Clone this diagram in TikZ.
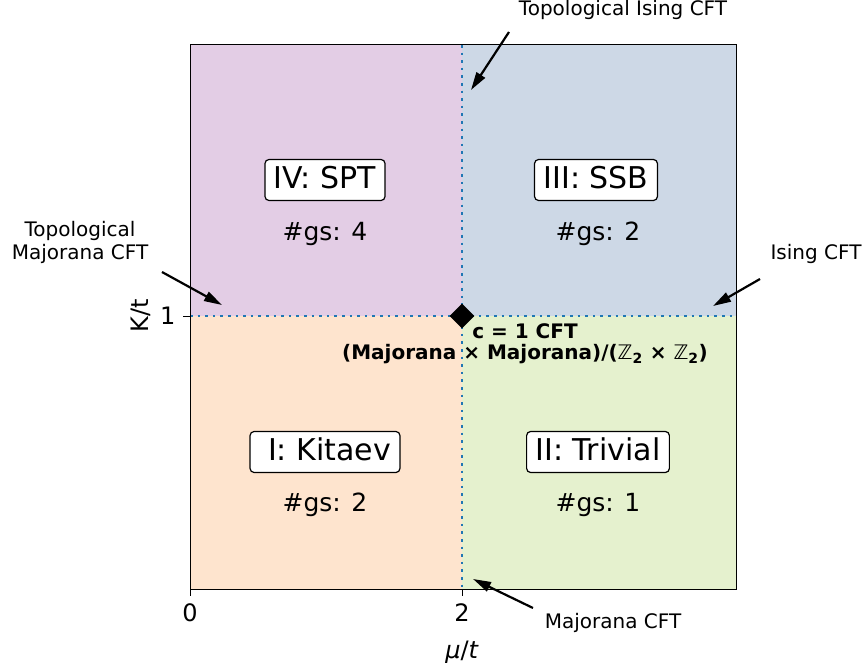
\documentclass[tikz,border=0pt]{standalone}
\usepackage{fontspec}
\setmainfont{DejaVu Sans}
\usetikzlibrary{shapes.geometric,arrows.meta,positioning}
\tikzset{>={Triangle[length=18pt,width=10pt]}, % filled heads as in the plot
x=1pt, y=-1pt, % one unit is one pixel of the plot
}
\definecolor{sptbg}{RGB}{227,205,229}
\definecolor{ssbbg}{RGB}{205,216,230}
\definecolor{kitaevbg}{RGB}{254,228,206}
\definecolor{trivialbg}{RGB}{229,241,206}
\definecolor{lineblue}{RGB}{31,119,180}

\begin{document}
\begin{tikzpicture}[
	phase/.style={draw=black, fill=white, rounded corners=4pt, line width=1.2pt,
		inner xsep=9pt, inner ysep=6pt, text height=23pt, text depth=6pt,
		font=\fontsize{30}{36}\selectfont},
	gs/.style={font=\fontsize{25}{30}\selectfont},
	note/.style={font=\fontsize{20}{23}\selectfont, align=center},
	tick/.style={font=\fontsize{24}{28}\selectfont},
	critical/.style={lineblue, line width=2.6pt, dash pattern=on 2.6pt off 5pt},
	pointer/.style={->, line width=2.2pt}]
\useasboundingbox (0,0) rectangle (865,671);
% phase regions
\fill[sptbg] (190,45) rectangle (462,316);
\fill[ssbbg] (462,45) rectangle (736,316);
\fill[kitaevbg] (190,316) rectangle (462,589);
\fill[trivialbg] (462,316) rectangle (736,589);
% phase boundaries
\draw[critical] (190,316) -- (736,316);
\draw[critical] (462,45) -- (462,589);
\draw[line width=1pt] (190,45) rectangle (736,589);
% ticks
\draw[line width=1pt] (190,589) -- (190,596) (462,589) -- (462,596) (190,316) -- (183,316);
\node[tick] (x0) at (190,613) {0};
\node[tick] (x2) at (462,613) {2};
\node[tick, anchor=east] (y1) at (179,316) {1};
\node[tick] (xlabel) at (462,652) {\textit{μ}/\textit{t}};
\node[tick, rotate=90] (ylabel) at (141,316) {K/t};
% phases
\node[phase] (spt) at (325,180) {IV: SPT};
\node[gs] (sptgs) at (325,234) {\#gs: 4};
\node[phase] (ssb) at (596,180) {III: SSB};
\node[gs] (ssbgs) at (598,234) {\#gs: 2};
\node[phase] (kitaev) at (325,452) {\hspace{9pt}I: Kitaev};
\node[gs] (kitaevgs) at (325,505) {\#gs: 2};
\node[phase] (trivial) at (598,452) {II: Trivial};
\node[gs] (trivialgs) at (598,505) {\#gs: 1};
% multicritical point
\node[diamond, fill=black, minimum size=25pt, inner sep=0pt] (mc) at (462,316) {};
\node[note, font=\fontsize{20}{21}\selectfont\bfseries] (mclabel) at (525,344)
	{c = 1 CFT\\(Majorana × Majorana)/({\mdseries ℤ}\textsubscript{2} × {\mdseries ℤ}\textsubscript{2})};
% critical lines
\node[note] (topising) at (623,10) {Topological Ising CFT};
\coordinate (topisingtail) at (509,32);
\coordinate (topisinghead) at (471,90);
\draw[pointer] (topisingtail) -- (topisinghead);
\node[note] (topmaj) at (80,242) {Topological\\Majorana CFT};
\coordinate (topmajtail) at (162,272);
\coordinate (topmajhead) at (222,305);
\draw[pointer] (topmajtail) -- (topmajhead);
\node[note] (ising) at (816,254) {Ising CFT};
\coordinate (isingtail) at (760,279);
\coordinate (isinghead) at (713,306);
\draw[pointer] (isingtail) -- (isinghead);
\node[note] (maj) at (613,623) {Majorana CFT};
\coordinate (majtail) at (533,608);
\coordinate (majhead) at (473,579);
\draw[pointer] (majtail) -- (majhead);
\end{tikzpicture}
\end{document}
